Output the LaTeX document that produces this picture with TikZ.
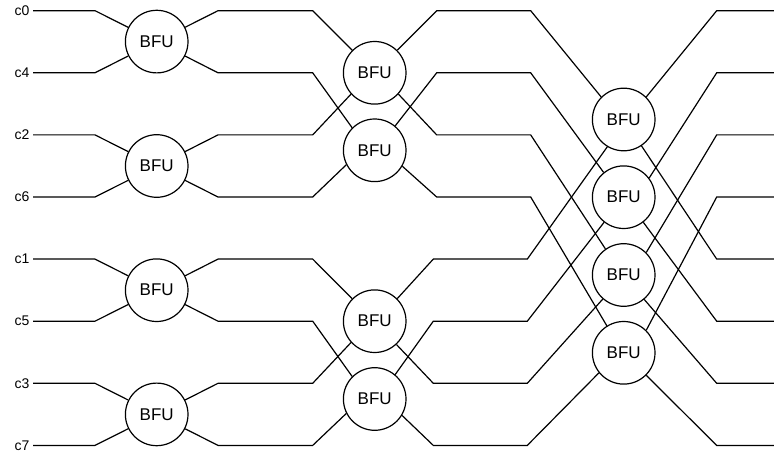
\documentclass[tikz,border=0pt]{standalone}
\usepackage{fontspec}
\setmainfont{Liberation Sans}
\begin{document}
\begin{tikzpicture}[x=1pt,y=-1pt,line width=1.2pt,
  bfu/.style={draw,circle,fill=white,minimum size=62.6pt,inner sep=0pt,font=\fontsize{17}{17}\selectfont},
  lbl/.style={anchor=east,inner sep=0pt,font=\fontsize{14}{14}\selectfont},
  wire/.style={draw,line join=miter}]
\useasboundingbox (0,0) rectangle (774,454);
% labels
\node[lbl] (l0) at (30,10.7) {c0};
\node[lbl] (l1) at (30,72.8) {c4};
\node[lbl] (l2) at (30,134.9) {c2};
\node[lbl] (l3) at (30,197.0) {c6};
\node[lbl] (l4) at (30,259.1) {c1};
\node[lbl] (l5) at (30,321.2) {c5};
\node[lbl] (l6) at (30,383.3) {c3};
\node[lbl] (l7) at (30,445.4) {c7};
% stage 1
\node[bfu] (a1) at (156.7,41.6) {BFU};
\node[bfu] (a2) at (156.7,166.0) {BFU};
\node[bfu] (a3) at (156.7,290.2) {BFU};
\node[bfu] (a4) at (156.7,414.4) {BFU};
% stage 2
\node[bfu] (b1) at (374.7,72.8) {BFU};
\node[bfu] (b2) at (374.7,150.3) {BFU};
\node[bfu] (b3) at (374.7,321.2) {BFU};
\node[bfu] (b4) at (374.7,399.0) {BFU};
% stage 3
\node[bfu] (d1) at (623.7,119.5) {BFU};
\node[bfu] (d2) at (623.7,197.2) {BFU};
\node[bfu] (d3) at (623.7,275.0) {BFU};
\node[bfu] (d4) at (623.7,352.8) {BFU};
% outputs
\coordinate (o0) at (774,10.7);
\coordinate (o1) at (774,72.8);
\coordinate (o2) at (774,134.9);
\coordinate (o3) at (774,197.0);
\coordinate (o4) at (774,259.1);
\coordinate (o5) at (774,321.2);
\coordinate (o6) at (774,383.3);
\coordinate (o7) at (774,445.4);
% inputs to stage 1
\draw[wire] ([xshift=3pt]l0.east) -- (95,10.7) -- (a1);
\draw[wire] ([xshift=3pt]l1.east) -- (95,72.8) -- (a1);
\draw[wire] ([xshift=3pt]l2.east) -- (95,134.9) -- (a2);
\draw[wire] ([xshift=3pt]l3.east) -- (95,197.0) -- (a2);
\draw[wire] ([xshift=3pt]l4.east) -- (95,259.1) -- (a3);
\draw[wire] ([xshift=3pt]l5.east) -- (95,321.2) -- (a3);
\draw[wire] ([xshift=3pt]l6.east) -- (95,383.3) -- (a4);
\draw[wire] ([xshift=3pt]l7.east) -- (95,445.4) -- (a4);
% stage 1 -> stage 2
\draw[wire] (a1) -- (218,10.7) -- (312.7,10.7) -- (b1.135);
\draw[wire] (a1) -- (218,72.8) -- (312.7,72.8) -- (b2.135);
\draw[wire] (a2) -- (218,134.9) -- (312.7,134.9) -- (b1.222);
\draw[wire] (a2) -- (218,197.0) -- (312.7,197.0) -- (b2.207);
\draw[wire] (a3) -- (218,259.1) -- (312.7,259.1) -- (b3.135);
\draw[wire] (a3) -- (218,321.2) -- (312.7,321.2) -- (b4.135);
\draw[wire] (a4) -- (218,383.3) -- (312.7,383.3) -- (b3.222);
\draw[wire] (a4) -- (218,445.4) -- (312.7,445.4) -- (b4.207);
% stage 2 -> stage 3
\draw[wire] (b1.45) -- (436.7,10.7) -- (530.7,10.7) -- (d1.135);
\draw[wire] (b2.50) -- (436.7,72.8) -- (530.7,72.8) -- (d2.129);
\draw[wire] (b1.318) -- (436.7,134.9) -- (530.7,134.9) -- (d3.125);
\draw[wire] (b2.330) -- (436.7,197.0) -- (530.7,197.0) -- (d4.122);
\draw[wire] (b3.45) -- (433.3,259.1) -- (527.3,259.1) -- (d1.239);
\draw[wire] (b4.50) -- (433.3,321.2) -- (527.3,321.2) -- (d2.232);
\draw[wire] (b3.313) -- (433.3,383.3) -- (527.3,383.3) -- (d3.229);
\draw[wire] (b4.329) -- (433.3,445.4) -- (527.3,445.4) -- (d4.219);
% stage 3 -> outputs
\draw[wire] (d1.45) -- (716.7,10.7) -- (o0);
\draw[wire] (d2.37) -- (716.7,72.8) -- (o1);
\draw[wire] (d3.45) -- (716.7,134.9) -- (o2);
\draw[wire] (d4.45) -- (716.7,197.0) -- (o3);
\draw[wire] (d1.304) -- (716.7,259.1) -- (o4);
\draw[wire] (d2.308) -- (716.7,321.2) -- (o5);
\draw[wire] (d3.310) -- (716.7,383.3) -- (o6);
\draw[wire] (d4.315) -- (716.7,445.4) -- (o7);
\end{tikzpicture}
\end{document}
